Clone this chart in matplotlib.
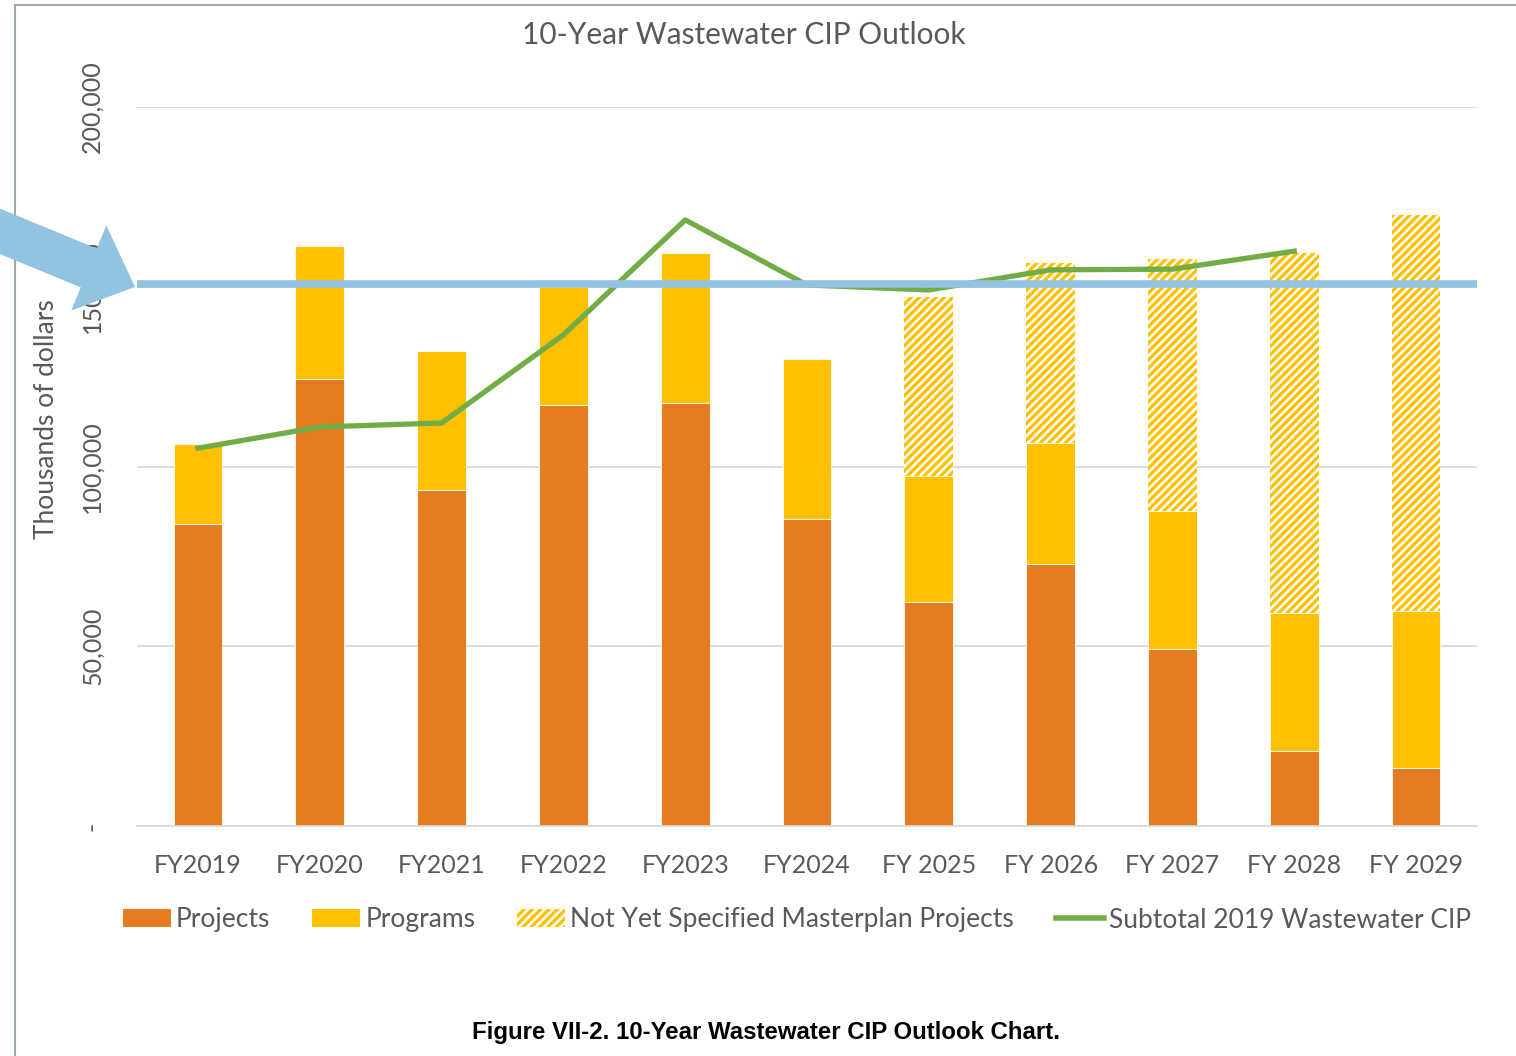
import matplotlib
matplotlib.use("Agg")
import matplotlib.pyplot as plt
from matplotlib.patches import FancyArrow, Patch
from matplotlib.lines import Line2D
import numpy as np

plt.rcParams['font.family'] = ['Lato', 'DejaVu Sans']
plt.rcParams['hatch.linewidth'] = 2.4

# values in thousands of dollars
years = ["FY2019", "FY2020", "FY2021", "FY2022", "FY2023", "FY2024",
         "FY 2025", "FY 2026", "FY 2027", "FY 2028", "FY 2029"]
projects = [84000, 124300, 93500, 117100, 117700, 85400, 62300, 72900, 49200, 20900, 16100]
programs = [22300, 37000, 38600, 32800, 41700, 44500, 35100, 33600, 38400, 38300, 43700]
not_yet = [0, 0, 0, 0, 0, 0, 49700, 50100, 70100, 100200, 110200]
subtotal = [105100, 111000, 112100, 136600, 168600, 150500, 149100, 154700, 154900, 159900]
budget_line = 150700

yticks = [0, 50000, 100000, 150000, 200000]
ytick_labels = ["-", "50,000", "100,000", "150,000", "200,000"]

orange = "#E67C22"
yellow = "#FFC000"
green = "#70AD47"
blue = "#93C3E2"
grey_text = "#595959"

W, H = 1516, 1056
fig = plt.figure(figsize=(W / 100, H / 100), dpi=100)
ax = fig.add_axes([137 / W, 1 - 826 / H, 1340 / W, 719 / H])

x = np.arange(len(years))
bw = 0.4
proj = np.array(projects)
prog = np.array(programs)
ax.bar(x, proj, bw, color=orange, edgecolor="white", linewidth=0.6, zorder=2)
ax.bar(x, prog, bw, bottom=proj, color=yellow, edgecolor="white", linewidth=0.6, zorder=2)
ax.bar(x, not_yet, bw, bottom=proj + prog, facecolor="white", edgecolor=yellow,
       hatch="////", linewidth=0, zorder=2)
ax.plot(x[:len(subtotal)], subtotal, color=green, lw=3.8, zorder=3)
ax.axhline(budget_line, color=blue, lw=5.5, zorder=4)

ax.set_xlim(-0.5, len(years) - 0.5)
ax.set_ylim(0, 200000)
ax.set_yticks(yticks)
ax.set_yticklabels(ytick_labels, rotation=90, va="center", fontsize=18, color=grey_text)
ax.set_xticks(x)
ax.set_xticklabels(years, fontsize=18, color=grey_text)
ax.tick_params(length=0)
ax.tick_params(axis="x", pad=20)
ax.tick_params(axis="y", pad=24)
ax.grid(axis="y", color="#D9D9D9", lw=1.3, zorder=0)
ax.set_axisbelow(True)
for s in ["top", "right", "left"]:
    ax.spines[s].set_visible(False)
ax.spines["bottom"].set_color("#D9D9D9")
ax.spines["bottom"].set_linewidth(1.3)

ax.set_ylabel("Thousands of dollars", fontsize=19, color=grey_text)
ax.yaxis.set_label_coords(-0.058, 0.566)

fig.text(744 / W, 1 - 35 / H, "10-Year Wastewater CIP Outlook", fontsize=21.5,
         color=grey_text, ha="center", va="center")

handles = [
    Patch(facecolor=orange, edgecolor="none"),
    Patch(facecolor=yellow, edgecolor="none"),
    Patch(facecolor="white", edgecolor=yellow, hatch="////", linewidth=0),
    Line2D([0], [0], color=green, lw=4),
]
labels = ["Projects", "Programs", "Not Yet Specified Masterplan Projects",
          "Subtotal 2019 Wastewater CIP"]
fig.legend(handles, labels, loc="center", bbox_to_anchor=(797 / W, 1 - 920 / H),
           ncol=4, frameon=False, fontsize=19, labelcolor=grey_text,
           handlelength=1.8, handleheight=0.65, handletextpad=0.2, columnspacing=1.6)

fig.text(766 / W, 1 - 1032 / H, "Figure VII-2. 10-Year Wastewater CIP Outlook Chart.",
         fontsize=17.3, fontweight="bold", family="Liberation Sans", ha="center", va="center")

# page frame
fig.add_artist(Line2D([15 / W, 15 / W], [0, 1 - 5 / H], color="#A0A8A8", lw=1.5))
fig.add_artist(Line2D([15 / W, 1], [1 - 5 / H, 1 - 5 / H], color="#A0A8A8", lw=1.5))

# callout arrow (inches, dpi 100)
x0, y0 = -0.3, (H - 219) / 100
x1, y1 = 1.35, (H - 287) / 100
fig.add_artist(FancyArrow(x0, y0, x1 - x0, y1 - y0, width=0.42, head_width=0.92,
                          head_length=0.5, length_includes_head=True, color=blue,
                          linewidth=0, transform=fig.dpi_scale_trans, zorder=10))

fig.savefig("out.png", dpi=100)
